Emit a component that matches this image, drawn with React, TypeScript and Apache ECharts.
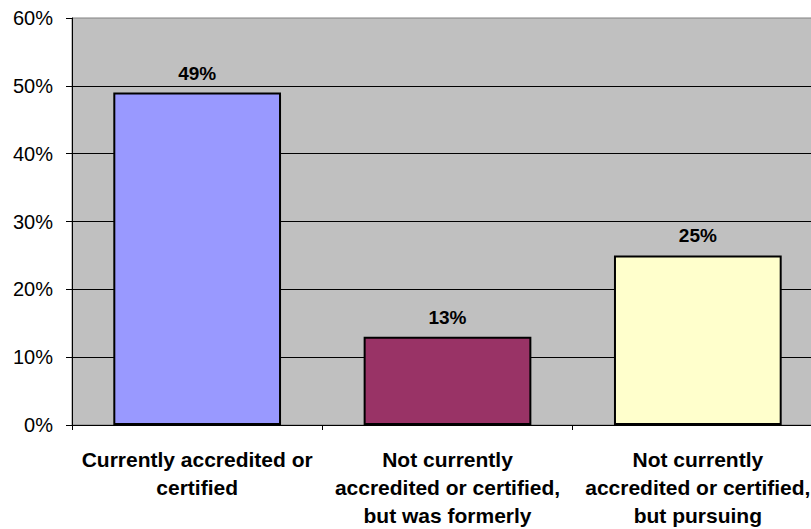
import React, { useEffect, useRef } from "react";
import * as echarts from "echarts";

const categories = [
  "Currently accredited or\ncertified",
  "Not currently\naccredited or certified,\nbut was formerly",
  "Not currently\naccredited or certified,\nbut pursuing",
];
const values = [49, 13, 25];
const barColors = ["#9999FF", "#993366", "#FFFFCC"];
const yTicks = { min: 0, max: 60, interval: 10 };

const FONT = "Liberation Sans, Arial, sans-serif";

export default function App() {
  const ref = useRef<HTMLDivElement>(null);
  useEffect(() => {
    if (!ref.current) return;
    const chart = echarts.init(ref.current, null, { renderer: "svg" });
    chart.setOption({
      animation: false,
      backgroundColor: "#FFFFFF",
      grid: {
        left: 72,
        top: 18,
        width: 751,
        height: 409,
        show: true,
        backgroundColor: "#C0C0C0",
        borderColor: "#808080",
        borderWidth: 1,
        containLabel: false,
      },
      xAxis: {
        type: "category",
        data: categories,
        axisLine: { show: true, lineStyle: { color: "#000", width: 1 } },
        axisTick: { show: true, length: 5, interval: 0, lineStyle: { color: "#000" } },
        axisLabel: {
          interval: 0,
          color: "#000",
          fontFamily: FONT,
          fontWeight: "bold",
          fontSize: 21,
          lineHeight: 28,
          margin: 20,
          align: "center",
        },
        splitLine: { show: false },
      },
      yAxis: {
        type: "value",
        min: yTicks.min,
        max: yTicks.max,
        interval: yTicks.interval,
        axisLine: { show: true, lineStyle: { color: "#000", width: 1 } },
        axisTick: { show: true, length: 6, lineStyle: { color: "#000" } },
        axisLabel: {
          formatter: "{value}%",
          color: "#000",
          fontFamily: FONT,
          fontSize: 20,
          margin: 19,
        },
        splitLine: {
          show: true,
          showMinLine: false,
          showMaxLine: false,
          lineStyle: { color: "#000", width: 1 },
        },
      },
      series: [
        {
          type: "bar",
          data: values.map((v, i) => ({
            value: v,
            itemStyle: { color: barColors[i] },
          })),
          barCategoryGap: "33%",
          itemStyle: { borderColor: "#000", borderWidth: 2 },
          label: {
            show: true,
            position: "top",
            distance: 10,
            formatter: "{c}%",
            color: "#000",
            fontFamily: FONT,
            fontWeight: "bold",
            fontSize: 19,
          },
        },
      ],
    });
    return () => chart.dispose();
  }, []);
  return (
    <div
      style={{
        position: "fixed",
        left: 0,
        top: 0,
        width: 811,
        height: 529,
        overflow: "hidden",
        background: "#fff",
      }}
    >
      <div ref={ref} style={{ width: 840, height: 529 }} />
    </div>
  );
}
